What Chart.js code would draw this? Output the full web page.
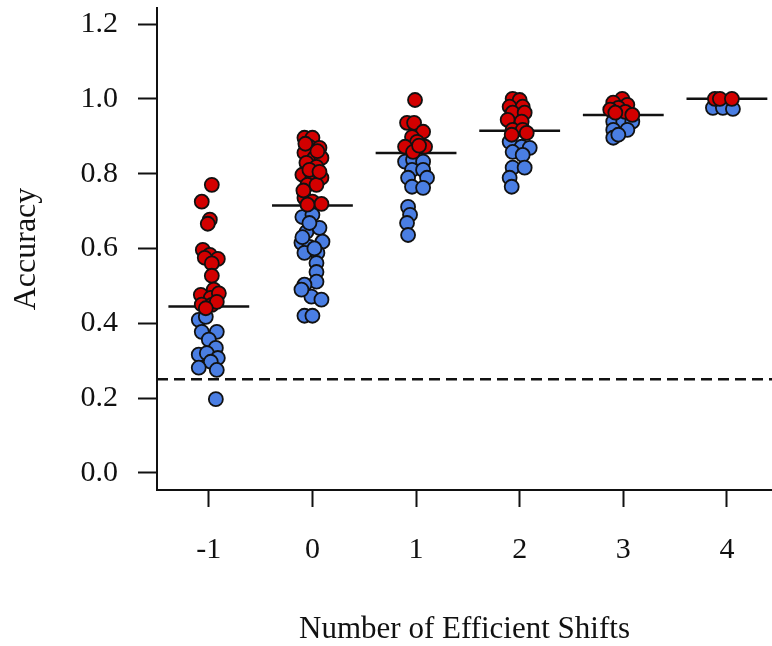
<!DOCTYPE html>
<html>
<head>
<meta charset="utf-8">
<script src="https://cdn.jsdelivr.net/npm/chart.js@4/dist/chart.umd.min.js"></script>
<style>
html,body{margin:0;padding:0;background:#fff;}
#wrap{width:772px;height:646px;}
</style>
</head>
<body>
<div id="wrap"><canvas id="c" width="772" height="646"></canvas></div>
<script>
// ---- data ----
const categories = [-1, 0, 1, 2, 3, 4];
const categoryLabels = ['-1', '0', '1', '2', '3', '4'];
const yTicks = [0, 0.2, 0.4, 0.6, 0.8, 1.0, 1.2];
const means = [0.445, 0.715, 0.855, 0.915, 0.957, 1.0];
const chanceLevel = 0.25;

// jittered x positions and accuracy values, red group
const redX = [
  -0.971,-1.068,-0.990,-1.010,-1.058,-0.990,-0.913,-1.039,-0.971,-0.971,-1.077,-0.952,-0.981,-0.903,-1.068,-0.971,-0.923,-1.029,
  -0.077,0.000,-0.029,0.068,-0.077,0.019,0.087,-0.058,0.039,-0.097,0.000,0.087,-0.048,0.039,-0.077,0.000,0.087,-0.048,-0.068,0.048,-0.029,-0.087,0.068,
  0.990,0.913,0.981,1.068,0.961,1.010,0.894,1.087,0.971,1.029,
  1.932,2.000,1.903,2.029,1.932,2.048,1.884,2.019,1.932,2.029,1.923,2.068,
  2.990,2.903,3.039,2.952,2.874,3.019,3.087,2.923,
  3.884,3.932,4.048
];
const redY = [
  0.770,0.725,0.677,0.666,0.596,0.583,0.572,0.575,0.560,0.527,0.476,0.490,0.468,0.480,0.450,0.449,0.457,0.440,
  0.896,0.896,0.872,0.869,0.856,0.842,0.842,0.829,0.818,0.797,0.789,0.789,0.770,0.770,0.735,0.725,0.719,0.717,0.880,0.860,0.810,0.755,0.805,
  0.997,0.936,0.936,0.912,0.898,0.885,0.872,0.872,0.858,0.875,
  1.000,0.997,0.979,0.979,0.963,0.963,0.944,0.939,0.917,0.917,0.904,0.909,
  1.000,0.990,0.984,0.976,0.971,0.965,0.957,0.963,
  1.000,1.000,1.000
];
// blue group
const blueX = [
  -1.097,-1.029,-1.068,-0.923,-1.000,-0.932,-1.097,-1.019,-0.913,-0.981,-1.097,-0.923,-0.932,
  -0.097,0.000,-0.058,0.068,-0.106,0.097,-0.029,-0.077,0.048,0.039,0.039,0.039,-0.077,-0.010,0.087,-0.077,0.000,-0.029,-0.097,0.019,-0.106,
  0.894,0.971,1.068,0.961,1.068,0.923,1.106,0.961,1.068,0.923,0.942,0.913,0.923,
  1.903,2.019,2.097,1.932,2.029,1.932,2.048,1.903,1.923,
  2.903,3.000,3.087,2.903,3.039,2.903,2.952,
  3.865,3.961,4.058
];
const blueY = [
  0.409,0.417,0.377,0.377,0.356,0.334,0.316,0.320,0.307,0.297,0.281,0.275,0.197,
  0.684,0.690,0.644,0.655,0.615,0.618,0.604,0.588,0.588,0.561,0.537,0.511,0.503,0.471,0.463,0.420,0.420,0.668,0.630,0.600,0.490,
  0.832,0.837,0.832,0.810,0.810,0.789,0.789,0.765,0.762,0.711,0.690,0.668,0.636,
  0.885,0.872,0.869,0.858,0.850,0.816,0.816,0.789,0.765,
  0.939,0.939,0.939,0.917,0.917,0.896,0.904,
  0.976,0.976,0.973
];

// ---- build datasets ----
const X_MIN = -1.5, X_MAX = 4.435, Y_MIN = -0.046, Y_MAX = 1.243;
const HALF = 0.39;
const toPts = (xs, ys) => xs.map((x, i) => ({x: x, y: ys[i]}));
const FONT = '"Liberation Serif", "DejaVu Serif", serif';

const meanSets = categories.map((c, i) => ({
  type: 'line',
  data: [{x: c - HALF, y: means[i]}, {x: c + HALF, y: means[i]}],
  borderColor: '#111',
  borderWidth: 2.5,
  pointRadius: 0,
  fill: false,
  order: 3
}));

const chart = new Chart(document.getElementById('c'), {
  type: 'scatter',
  data: {
    datasets: [
      {
        type: 'line',
        data: [{x: X_MIN, y: chanceLevel}, {x: X_MAX, y: chanceLevel}],
        borderColor: '#111',
        borderWidth: 2.5,
        borderDash: [11, 6],
        pointRadius: 0,
        fill: false,
        order: 4
      },
      ...meanSets,
      {
        data: toPts(blueX, blueY),
        backgroundColor: '#4a7ee3',
        borderColor: '#111',
        borderWidth: 1.8,
        pointRadius: 7,
        order: 2
      },
      {
        data: toPts(redX, redY),
        backgroundColor: '#d30000',
        borderColor: '#111',
        borderWidth: 1.8,
        pointRadius: 7,
        order: 1
      }
    ]
  },
  options: {
    responsive: false,
    animation: false,
    devicePixelRatio: 1,
    layout: {autoPadding: false, padding: {top: 8, right: 0, bottom: 0, left: 0}},
    plugins: {legend: {display: false}, tooltip: {enabled: false}},
    scales: {
      x: {
        type: 'linear',
        min: X_MIN, max: X_MAX,
        afterBuildTicks: s => { s.ticks = categories.map(v => ({value: v})); },
        afterFit: s => { s.height = 156; s.paddingLeft = 0; s.paddingRight = 0; },
        grid: {drawOnChartArea: false, drawTicks: true, tickLength: 17, tickColor: '#111', tickWidth: 2},
        border: {display: true, color: '#111', width: 2},
        ticks: {
          color: '#111',
          padding: 25,
          maxRotation: 0,
          font: {family: FONT, size: 30},
          callback: (v) => categoryLabels[categories.indexOf(v)]
        },
        title: {
          display: true,
          text: 'Number of Efficient Shifts',
          color: '#111',
          padding: {top: 0, bottom: 1},
          font: {family: FONT, size: 31, lineHeight: 1}
        }
      },
      y: {
        type: 'linear',
        min: Y_MIN, max: Y_MAX,
        afterBuildTicks: s => { s.ticks = yTicks.map(v => ({value: v})); },
        afterFit: s => { s.width = 157; s.paddingTop = 0; s.paddingBottom = 0; },
        grid: {drawOnChartArea: false, drawTicks: true, tickLength: 19, tickColor: '#111', tickWidth: 2},
        border: {display: true, color: '#111', width: 2},
        ticks: {
          color: '#111',
          padding: 20,
          font: {family: FONT, size: 30},
          callback: (v) => Number(v).toFixed(1)
        },
        title: {
          display: true,
          text: 'Accuracy',
          color: '#111',
          padding: {top: 11, bottom: 0},
          font: {family: FONT, size: 32, lineHeight: 1}
        }
      }
    }
  }
});
</script>
</body>
</html>
